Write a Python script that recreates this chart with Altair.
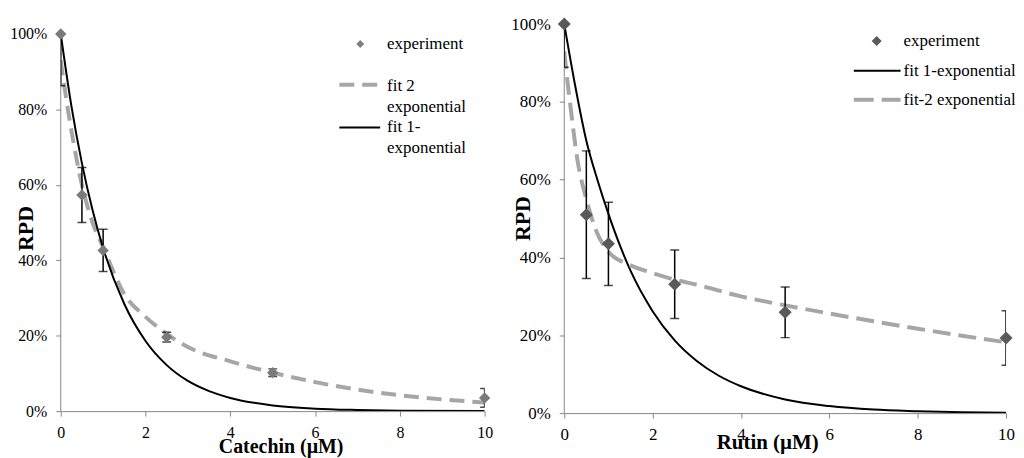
import altair as alt
import pandas as pd

FONT = "Liberation Serif"

# ---------------- Catechin panel ----------------
cat_conc = [0, 0.5, 1, 2.5, 5, 10]
cat_rpd = [1.00, 0.573, 0.426, 0.196, 0.102, 0.035]
cat_err = [0.137, 0.073, 0.056, 0.013, 0.010, 0.025]
cat_fit1_x = [0, 0.25, 0.5, 0.75, 1, 1.5, 2, 2.5, 3, 3.5, 4, 5, 6, 7, 8, 10]
cat_fit1_y = [1.00, 0.81, 0.657, 0.533, 0.432, 0.284, 0.186, 0.122, 0.080, 0.053,
              0.035, 0.015, 0.0065, 0.003, 0.0012, 0.0002]
cat_fit2_x = [0, 0.1, 0.25, 0.5, 0.75, 1, 1.5, 2, 2.5, 3, 4, 5, 6, 7, 8, 9, 10]
cat_fit2_y = [0.93, 0.85, 0.745, 0.60, 0.50, 0.435, 0.31, 0.25, 0.205, 0.17, 0.132,
              0.102, 0.077, 0.057, 0.042, 0.031, 0.023]
cat_legend = ["experiment", "fit 2", "exponential", "fit 1-", "exponential"]

# ---------------- Rutin panel ----------------
rut_conc = [0, 0.5, 1, 2.5, 5, 10]
rut_rpd = [1.00, 0.51, 0.435, 0.331, 0.259, 0.193]
rut_err = [0.111, 0.164, 0.107, 0.088, 0.065, 0.070]
rut_fit1_x = [0, 0.25, 0.5, 0.75, 1, 1.5, 2, 2.5, 3, 3.5, 4, 5, 6, 7, 8, 9, 10]
rut_fit1_y = [1.0, 0.84, 0.70, 0.60, 0.512, 0.366, 0.262, 0.187, 0.134, 0.096, 0.069,
              0.035, 0.018, 0.009, 0.005, 0.0024, 0.0012]
rut_fit2_x = [0, 0.075, 0.15, 0.3, 0.5, 0.7, 1, 1.5, 2, 2.5, 3, 4, 5, 6, 7, 8, 9, 10]
rut_fit2_y = [0.93, 0.85, 0.78, 0.65, 0.55, 0.475, 0.415, 0.38, 0.36, 0.343, 0.33, 0.30,
              0.277, 0.256, 0.236, 0.217, 0.199, 0.182]
rut_legend = ["experiment", "fit 1-exponential", "fit-2 exponential"]

x_ticks = [0, 2, 4, 6, 8, 10]
y_ticks = [0, 0.2, 0.4, 0.6, 0.8, 1.0]

AXIS_GRAY = "#868686"
DASH_GRAY = "#A6A6A6"


def make_axes(xtitle, tick_fs, xt_fs, yt_fs, w, h, ytop, xtitle_x, xtitle_y, ytitle_x,
              ytitle_y):
    xs = alt.Scale(domain=[0, 10], nice=False, zero=False)
    ys = alt.Scale(domain=[0, ytop], nice=False)
    xa = alt.Axis(values=x_ticks, labelFlush=False, grid=False, labelFont=FONT,
                  labelFontSize=tick_fs, labelColor="black", domainColor=AXIS_GRAY,
                  tickColor=AXIS_GRAY, tickSize=5, labelPadding=9, title=xtitle,
                  titleFont=FONT, titleFontSize=xt_fs, titleFontWeight="bold",
                  titleColor="black", titleX=xtitle_x, titleY=xtitle_y,
                  titleBaseline="alphabetic", titleAlign="center")
    ya = alt.Axis(values=y_ticks, format=".0%", grid=False, domain=False, labelFont=FONT,
                  labelFontSize=tick_fs, labelColor="black",
                  tickColor=AXIS_GRAY, tickSize=5, labelPadding=9, title="RPD",
                  titleFont=FONT, titleFontSize=yt_fs, titleFontWeight="bold",
                  titleColor="black", titleX=ytitle_x, titleY=ytitle_y,
                  titleAngle=-90, titleBaseline="alphabetic", titleAlign="center")

    def X(f):
        return alt.X(f, type="quantitative", scale=xs, axis=xa)

    def Y(f):
        return alt.Y(f, type="quantitative", scale=ys, axis=ya)

    return X, Y


def data_layers(conc, rpd, err, f1x, f1y, f2x, f2y, X, Y, pt_color, pt_size, dash,
                dashed_first=True):
    pts = pd.DataFrame({"x": conc, "y": rpd,
                        "lo": [a - b for a, b in zip(rpd, err)],
                        "hi": [min(a + b, 1.0) for a, b in zip(rpd, err)],
                        "cap": [a + b <= 1.0 for a, b in zip(rpd, err)]})
    fit1 = pd.DataFrame({"x": f1x, "y": f1y})
    fit2 = pd.DataFrame({"x": f2x, "y": f2y})
    yline = pd.DataFrame({"x": [0, 0], "y": [0, 1.0]})
    axis_line = alt.Chart(yline).mark_line(color=AXIS_GRAY, strokeWidth=1).encode(
        x=X("x"), y=Y("y"))
    l_fit2 = alt.Chart(fit2).mark_line(color=DASH_GRAY, strokeWidth=4, strokeDash=dash,
                                       interpolate="monotone", clip=True).encode(x=X("x"), y=Y("y"))
    l_fit1 = alt.Chart(fit1).mark_line(color="black", strokeWidth=2,
                                       interpolate="monotone", clip=True).encode(x=X("x"), y=Y("y"))
    base = alt.Chart(pts)
    bar = base.mark_rule(color="black", strokeWidth=1.5, clip=True).encode(
        x=X("x"), y=Y("lo"), y2="hi")
    cap_lo = base.mark_tick(color="black", orient="horizontal", size=9, thickness=1.5,
                            clip=True).encode(x=X("x"), y=Y("lo"))
    cap_hi = base.transform_filter("datum.cap").mark_tick(
        color="black", orient="horizontal", size=9, thickness=1.5,
        clip=True).encode(x=X("x"), y=Y("hi"))
    dots = base.mark_point(shape="diamond", filled=True, size=pt_size, color=pt_color,
                           opacity=1).encode(x=X("x"), y=Y("y"))
    lines = [l_fit2, l_fit1] if dashed_first else [l_fit1, l_fit2]
    return [axis_line] + lines + [bar, cap_lo, cap_hi, dots]


one = pd.DataFrame({"a": [0]})


def txt(s, x, y, fs):
    return alt.Chart(one).mark_text(align="left", baseline="middle", font=FONT,
                                    fontSize=fs, color="black").encode(
        x=alt.value(x), y=alt.value(y), text=alt.value(s))


def seg(x1, x2, y, color, width, dash=None):
    kw = dict(color=color, strokeWidth=width)
    if dash:
        kw["strokeDash"] = dash
    return alt.Chart(one).mark_rule(**kw).encode(x=alt.value(x1), x2=alt.value(x2),
                                                 y=alt.value(y))


def diamond(x, y, size, color):
    return alt.Chart(one).mark_point(shape="diamond", filled=True, size=size, color=color,
                                     opacity=1).encode(x=alt.value(x), y=alt.value(y))


# ---- left panel (100% line sits 10px below the shared top) ----
LW, LH_DATA, OFF = 426, 379, 10
LH = LH_DATA + OFF
X1, Y1 = make_axes("Catechin (µM)", 16, 20, 22, LW, LH, 1 + OFF / LH_DATA,
                   221, 42, -28, OFF + 195)
left_layers = data_layers(cat_conc, cat_rpd, cat_err, cat_fit1_x, cat_fit1_y,
                          cat_fit2_x, cat_fit2_y, X1, Y1, "#7a7a7a", 130, [15, 8])
left_legend = [
    diamond(301, OFF + 10, 64, "#7f7f7f"),
    txt(cat_legend[0], 328, OFF + 10, 17),
    seg(280, 321, OFF + 51, DASH_GRAY, 4, [15, 8]),
    txt(cat_legend[1], 328, OFF + 52, 17),
    txt(cat_legend[2], 328, OFF + 73, 17),
    seg(280, 321, OFF + 94, "black", 2),
    txt(cat_legend[3], 328, OFF + 94, 17),
    txt(cat_legend[4], 328, OFF + 115, 17),
]
left = alt.layer(*left_layers, *left_legend).properties(width=LW, height=LH)

# ---- right panel ----
RW, RH = 444, 391
X2, Y2 = make_axes("Rutin (µM)", 17, 21, 22, RW, RH, 1.0, 204, 36, -35, 195)
right_layers = data_layers(rut_conc, rut_rpd, rut_err, rut_fit1_x, rut_fit1_y,
                           rut_fit2_x, rut_fit2_y, X2, Y2, "#595959", 170, [18, 8],
                           dashed_first=False)
right_legend = [
    diamond(314, 17, 100, "#595959"),
    txt(rut_legend[0], 341, 17, 17),
    seg(291, 338, 47, "black", 2),
    txt(rut_legend[1], 341, 47, 17),
    seg(291, 338, 76, DASH_GRAY, 4, [20, 8]),
    txt(rut_legend[2], 341, 76, 17),
]
right = alt.layer(*right_layers, *right_legend).properties(width=RW, height=RH)

chart = alt.hconcat(left, right, spacing=18).properties(
    padding={"left": 1, "top": 6, "right": 0, "bottom": 0},
    background="white",
).configure_view(stroke=None)

chart.save("out.html", embed_options={"renderer": "svg", "actions": False})
